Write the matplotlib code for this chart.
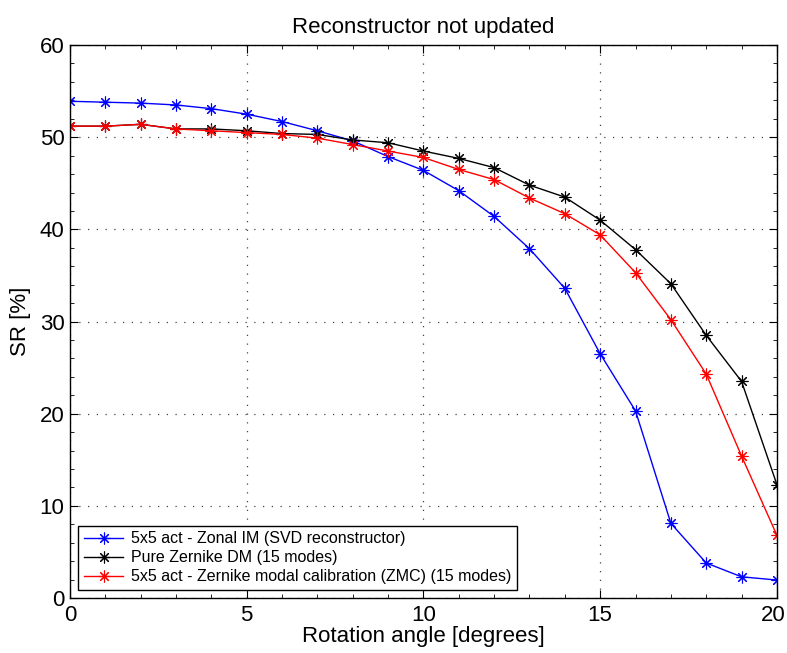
import matplotlib
matplotlib.use("Agg")
import matplotlib.pyplot as plt
import matplotlib.transforms as mtransforms
from matplotlib.ticker import MultipleLocator

plt.rcParams['font.family'] = ['Liberation Sans', 'DejaVu Sans']

angles = list(range(0, 21))
zonal = [53.9, 53.8, 53.7, 53.5, 53.1, 52.5, 51.7, 50.7, 49.6, 47.9, 46.4,
         44.2, 41.4, 37.9, 33.6, 26.5, 20.3, 8.1, 3.8, 2.3, 1.95]
pure = [51.2, 51.2, 51.4, 50.9, 50.9, 50.7, 50.4, 50.3, 49.7, 49.4, 48.5,
        47.7, 46.7, 44.8, 43.5, 41.0, 37.8, 34.1, 28.5, 23.5, 12.3]
zmc = [51.2, 51.2, 51.4, 50.9, 50.7, 50.5, 50.3, 49.9, 49.2, 48.5, 47.8,
       46.5, 45.4, 43.4, 41.7, 39.4, 35.3, 30.2, 24.3, 15.4, 6.8]
labels = ['5x5 act - Zonal IM (SVD reconstructor)',
          'Pure Zernike DM (15 modes)',
          '5x5 act - Zernike modal calibration (ZMC) (15 modes)']

fig = plt.figure(figsize=(7.87, 6.53), dpi=100)
ax = fig.add_axes([0.0889, 0.0842, 0.8983, 0.8468])

mk = dict(marker=(8, 2, 0), markersize=8.5, markeredgewidth=0.8, linewidth=1.0)
ax.plot(angles, zonal, color='#0000ff', label=labels[0], **mk)
ax.plot(angles, pure, color='#000000', label=labels[1], **mk)
ax.plot(angles, zmc, color='#ff0000', label=labels[2], **mk)

ax.set_xlim(0, 20)
ax.set_ylim(0, 60)
ax.xaxis.set_major_locator(MultipleLocator(5))
ax.xaxis.set_minor_locator(MultipleLocator(1))
ax.yaxis.set_major_locator(MultipleLocator(10))
ax.yaxis.set_minor_locator(MultipleLocator(2))
ax.tick_params(which='both', direction='in', top=True, right=True, labelsize=16)
ax.tick_params(which='major', length=6)
ax.tick_params(which='minor', length=3)
ax.tick_params(axis='x', pad=5)
ax.tick_params(axis='y', pad=4)
ax.grid(True, which='major', linestyle=(0, (1, 6)), color='#444444', linewidth=0.9)
for s in ax.spines.values():
    s.set_linewidth(1.0)

ax.set_xlabel('Rotation angle [degrees]', fontsize=16, labelpad=0)
ax.set_ylabel('SR [%]', fontsize=16, labelpad=6)
ax.set_title('Reconstructor not updated', fontsize=16, pad=9)

leg = ax.legend(loc='lower left', fontsize=11.5, fancybox=False, framealpha=1,
                edgecolor='black', handlelength=2.5, handletextpad=0.5,
                borderaxespad=0.5, labelspacing=0.25, borderpad=0.35)
leg.get_frame().set_linewidth(1.0)

# keep the last x tick label inside the figure
fig.canvas.draw()
xlabels = ax.get_xticklabels()
last = [t for t in xlabels if t.get_text() == '20']
for t in last:
    t.set_transform(t.get_transform() +
                    mtransforms.ScaledTranslation(-4 / 100, 0, fig.dpi_scale_trans))

fig.savefig('out.png', dpi=100)
